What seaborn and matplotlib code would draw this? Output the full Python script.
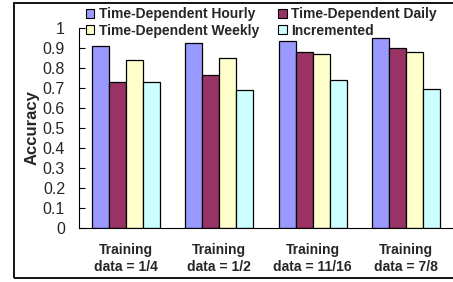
import matplotlib
matplotlib.use('Agg')
import matplotlib.pyplot as plt
import matplotlib.patches as mpatches
import pandas as pd
import seaborn as sns

# data
groups = ['Training\ndata = 1/4', 'Training\ndata = 1/2', 'Training\ndata = 11/16', 'Training\ndata = 7/8']
series = ['Time-Dependent Hourly', 'Time-Dependent Daily', 'Time-Dependent Weekly', 'Incremented']
hourly = [0.908, 0.925, 0.935, 0.950]
daily = [0.730, 0.767, 0.878, 0.898]
weekly = [0.840, 0.850, 0.868, 0.878]
incremented = [0.730, 0.688, 0.740, 0.693]
colors = ['#9999FF', '#993366', '#FFFFCC', '#CCFFFF']

df = pd.DataFrame({
    'group': groups * 4,
    'series': [s for s in series for _ in groups],
    'accuracy': hourly + daily + weekly + incremented,
})

sns.set_style('white')
plt.rcParams['font.family'] = ['Liberation Sans', 'DejaVu Sans']

fig = plt.figure(figsize=(4.53, 2.82), dpi=100)
ax = fig.add_axes([79 / 453, 54 / 282, 374 / 453, 200 / 282])

sns.barplot(data=df, x='group', y='accuracy', hue='series', hue_order=series,
            palette=colors, width=0.727, gap=0, edgecolor='black', linewidth=0.9,
            saturation=1, ax=ax, legend=False)

ax.set_ylim(0, 1)
ax.set_xlim(-0.5, 3.5)
ax.set_yticks([i / 10 for i in range(11)])
ax.set_yticklabels(['0'] + [f'0.{i}' for i in range(1, 10)] + ['1'])
ax.set_xticks([0.5, 1.5, 2.5], minor=True)
ax.tick_params(axis='x', which='major', length=0, pad=11, labelsize=10)
ax.tick_params(axis='x', which='minor', direction='in', length=4, width=0.8, color='black')
ax.tick_params(axis='y', direction='in', length=4, width=0.8, color='black', pad=10, labelsize=11.5, left=True)
for lab in ax.get_xticklabels():
    lab.set_fontweight('bold')
    lab.set_linespacing(1.25)

ax.set_xlabel('')
ax.set_ylabel('Accuracy', fontsize=12, fontweight='bold', labelpad=2)
ax.spines['top'].set_visible(False)
ax.spines['right'].set_visible(False)
for s in ['left', 'bottom']:
    ax.spines[s].set_color('black')
    ax.spines[s].set_linewidth(0.8)

# legend in two columns over the top of the plot
handles = [mpatches.Patch(facecolor=c, edgecolor='black', linewidth=0.8) for c in colors]
order = [0, 2, 1, 3]
fig.legend([handles[i] for i in order], [series[i] for i in order],
           ncol=2, loc='upper left', bbox_to_anchor=(86 / 453, 1 - 7 / 282),
           frameon=False, prop={'weight': 'bold', 'size': 10},
           handlelength=0.6, handleheight=0.6, handletextpad=0.35,
           columnspacing=1.35, labelspacing=0.2, borderpad=0, borderaxespad=0)

# outer chart border
fig.patches.append(mpatches.Rectangle((14 / 453, 4 / 282), 1.0, 275 / 282,
                                      transform=fig.transFigure, fill=False,
                                      edgecolor='black', linewidth=1.3))

fig.savefig('out.png', dpi=100)
